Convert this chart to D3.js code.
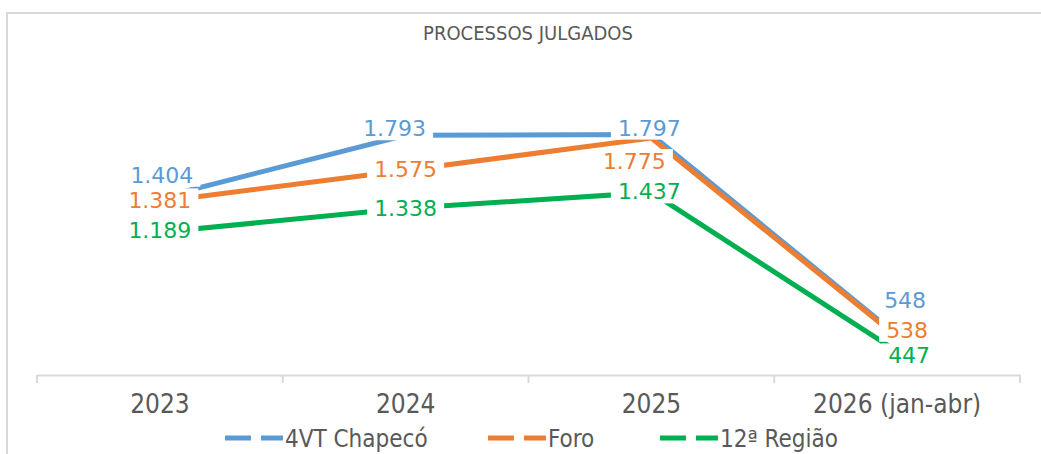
<!DOCTYPE html>
<html>
<head>
<meta charset="utf-8">
<script src="https://cdn.jsdelivr.net/npm/d3@7"></script>
<style>
  body { margin: 0; background: #fff; }
  svg { display: block; }
</style>
</head>
<body>
<script>
var categories = ["2023", "2024", "2025", "2026 (jan-abr)"];
var seriesNames = ["4VT Chapecó", "Foro", "12ª Região"];
var chapeco = [1404, 1793, 1797, 548];
var foro = [1381, 1575, 1775, 538];
var regiao = [1189, 1338, 1437, 447];
var colors = ["#5B9BD5", "#ED7D31", "#00B050"];

// label offsets from the point, in px [dx, dy] per category
var labelOffsets = [
  [[2, -23], [-11, -7], [-2, -7], [8, -35]],
  [[0, -1], [0, -1], [-17, 23], [10, -7]],
  [[0, -2], [0, 0], [-2, -1], [12, 4]]
];

var width = 1041, height = 454;
var margin = {left: 37, right: 21, top: 102, bottom: 79};
var condensed = "'DejaVu Sans Condensed', 'DejaVu Sans', sans-serif";

var svg = d3.select("body").append("svg")
  .attr("width", width).attr("height", height);

// chart border
svg.append("path")
  .attr("d", "M7," + height + "V13H" + width)
  .attr("fill", "none").attr("stroke", "#d9d9d9").attr("stroke-width", 2);

svg.append("text")
  .attr("x", 528).attr("y", 40)
  .attr("text-anchor", "middle")
  .style("font-family", condensed)
  .style("font-stretch", "condensed")
  .style("font-size", "20px")
  .style("fill", "#595959")
  .text("PROCESSOS JULGADOS");

var x = d3.scaleBand()
  .domain(categories)
  .range([margin.left, width - margin.right])
  .padding(0);

var y = d3.scaleLinear()
  .domain([300, 2000])
  .range([height - margin.bottom, margin.top]);

// x axis
var xAxis = svg.append("g")
  .attr("transform", "translate(0," + y(300) + ")")
  .call(d3.axisBottom(x).tickSize(0).tickPadding(20));
xAxis.select(".domain").attr("stroke", "#d9d9d9").attr("stroke-width", 2);
xAxis.selectAll("text")
  .style("font-family", condensed)
  .style("font-stretch", "condensed")
  .style("font-size", "26px")
  .style("fill", "#595959");

var bounds = categories.map(function(c){ return x(c); }).concat([x.range()[1]]);
svg.append("g").selectAll("line")
  .data(bounds)
  .enter().append("line")
  .attr("x1", function(d){ return d; })
  .attr("x2", function(d){ return d; })
  .attr("y1", y(300))
  .attr("y2", y(300) + 8)
  .attr("stroke", "#d9d9d9").attr("stroke-width", 2);

var series = [chapeco, foro, regiao];

var line = d3.line()
  .x(function(d, i){ return x(categories[i]) + x.bandwidth() / 2; })
  .y(function(d){ return y(d); });

svg.append("g").selectAll("path")
  .data(series)
  .enter().append("path")
  .attr("d", function(d){ return line(d); })
  .attr("fill", "none")
  .attr("stroke", function(d, i){ return colors[i]; })
  .attr("stroke-width", 5);

var fmt = function(v){ return d3.format(",")(v).replace(/,/g, "."); };

var labelGroup = svg.append("g");
series.forEach(function(vals, s){
  vals.forEach(function(v, i){
    var cx = x(categories[i]) + x.bandwidth() / 2 + labelOffsets[s][i][0];
    var cy = y(v) + labelOffsets[s][i][1];
    var g = labelGroup.append("g");
    var rect = g.append("rect").attr("fill", "#fff");
    var t = g.append("text")
      .attr("x", cx).attr("y", cy)
      .attr("dy", "0.36em")
      .attr("text-anchor", "middle")
      .style("font-family", "'DejaVu Sans', sans-serif")
      .style("font-size", "22px")
      .style("fill", colors[s])
      .text(fmt(v));
    var b = t.node().getBBox();
    rect.attr("x", b.x - 7).attr("y", cy - 12)
      .attr("width", b.width + 14).attr("height", 24);
  });
});

// legend
var legendX = [225, 488, 660];
var legend = svg.append("g").selectAll("g")
  .data(seriesNames)
  .enter().append("g")
  .attr("transform", function(d, i){ return "translate(" + legendX[i] + ",438)"; });

legend.append("line")
  .attr("x1", 0).attr("x2", 58)
  .attr("y1", 0).attr("y2", 0)
  .attr("stroke", function(d, i){ return colors[i]; })
  .attr("stroke-width", 5)
  .attr("stroke-dasharray", "26,10");

legend.append("text")
  .attr("x", 60).attr("y", 0).attr("dy", "0.36em")
  .style("font-family", condensed)
  .style("font-stretch", "condensed")
  .style("font-size", "24px")
  .style("fill", "#595959")
  .text(function(d){ return d; });
</script>
</body>
</html>
